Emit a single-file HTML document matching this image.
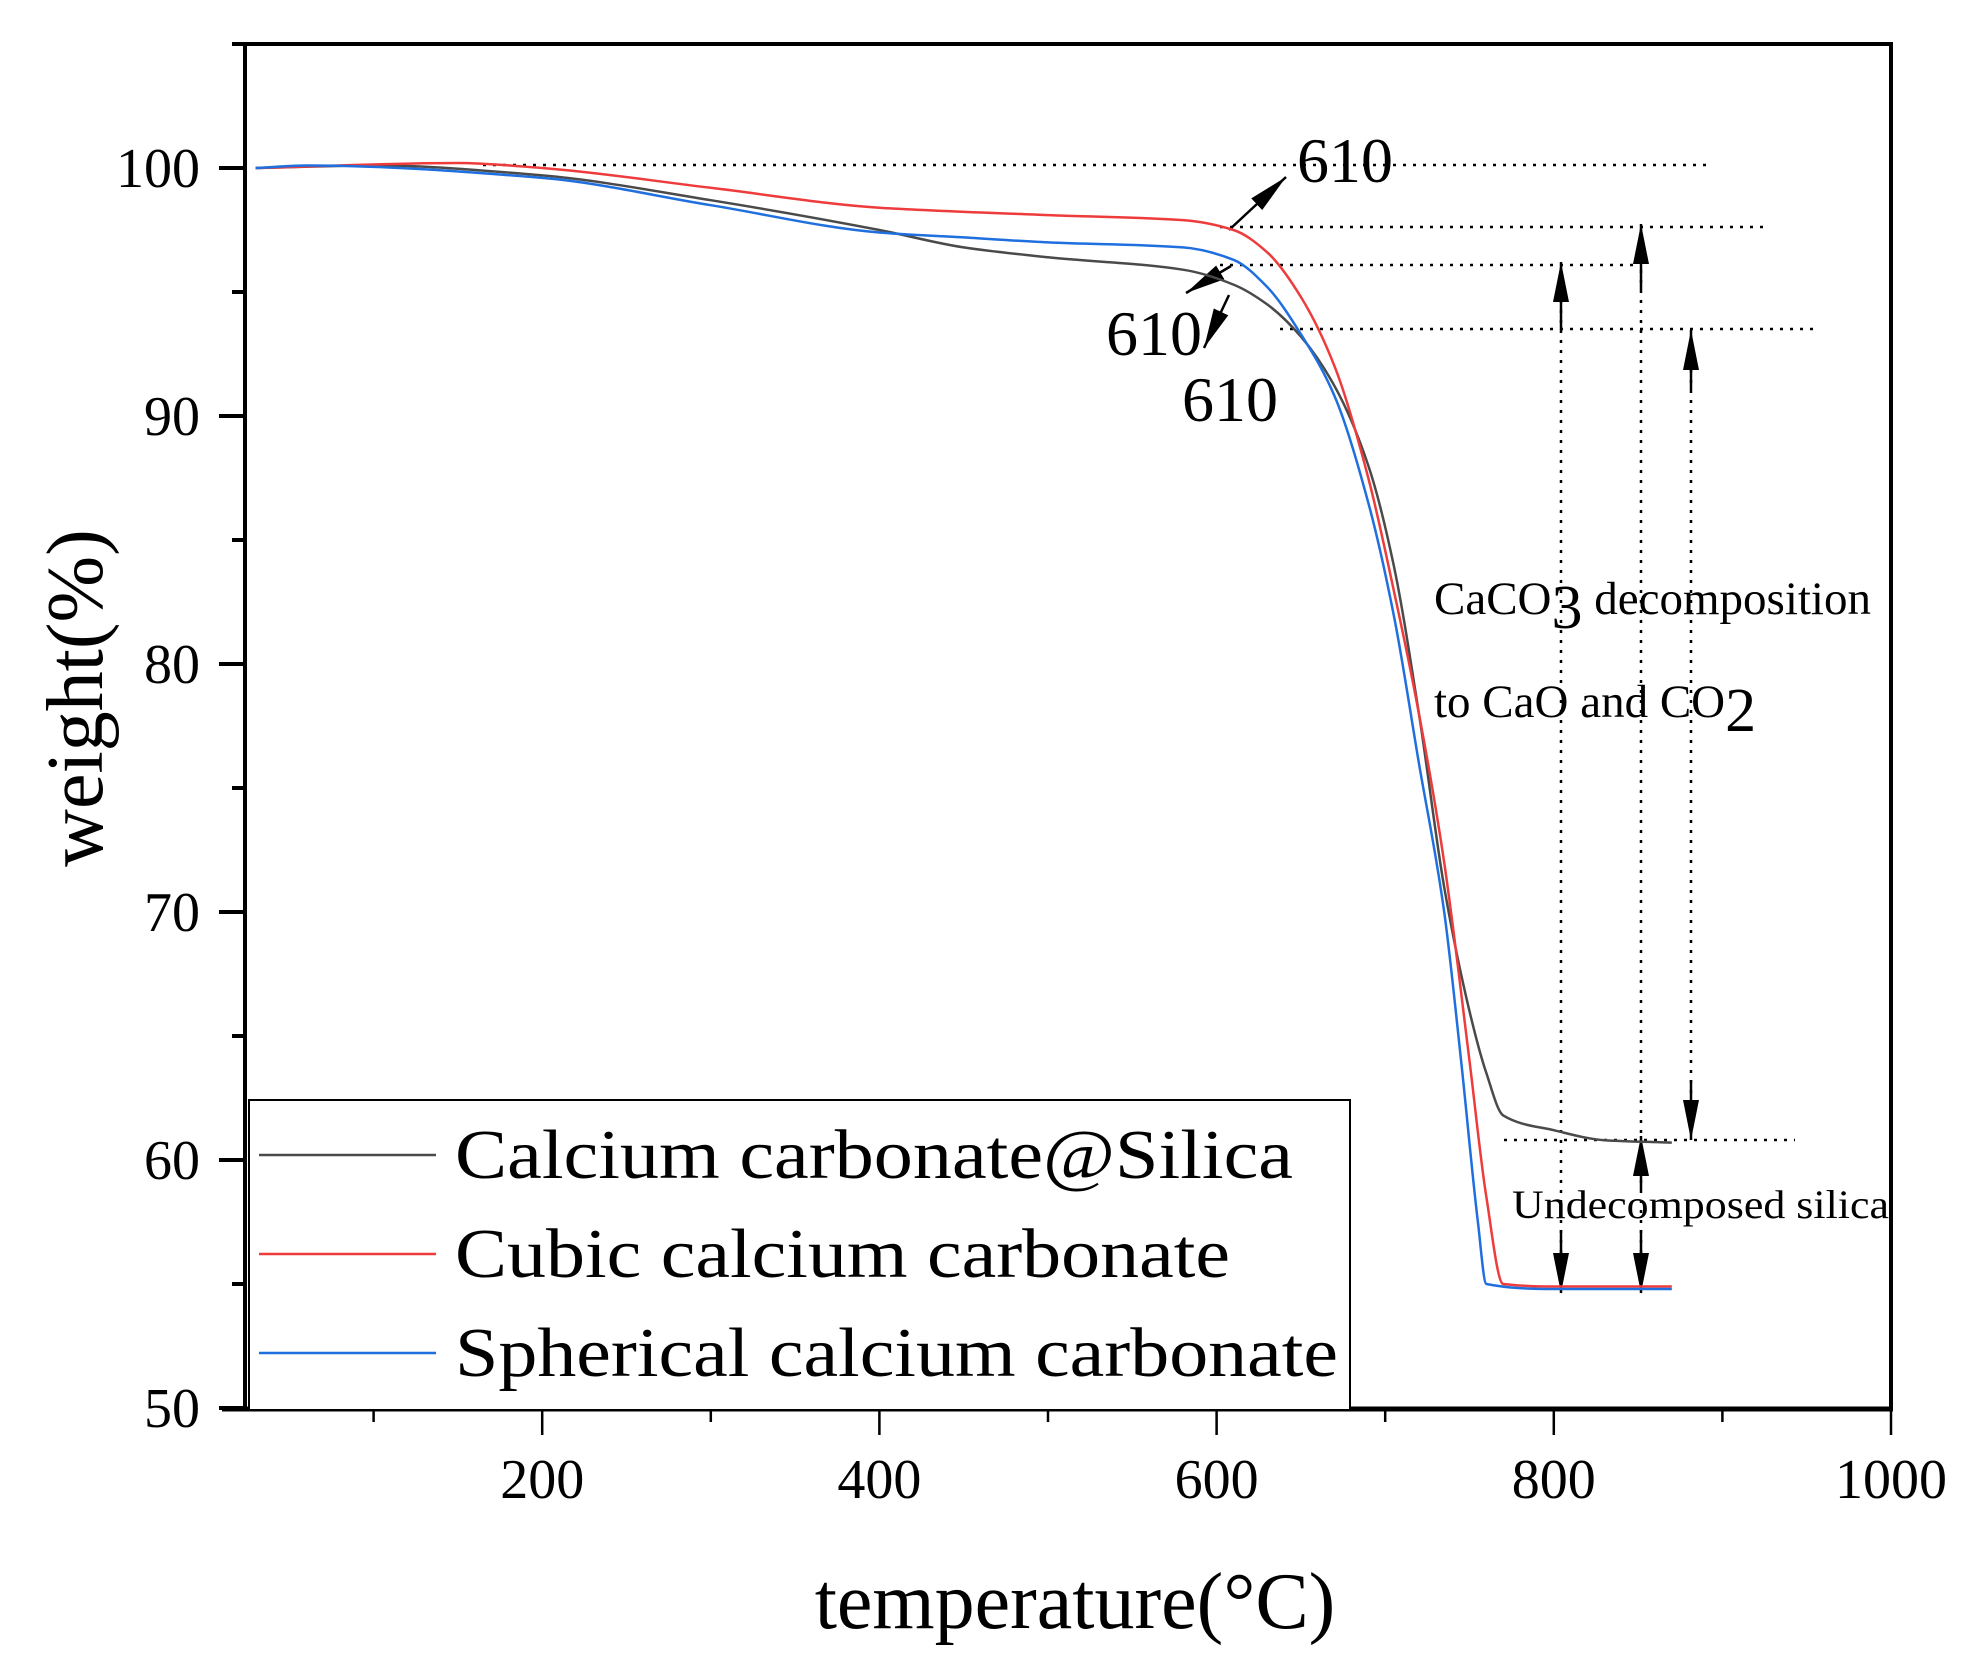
<!DOCTYPE html>
<html><head><meta charset="utf-8"><style>
html,body{margin:0;padding:0;background:#fff}
svg{display:block}
text{font-family:"Liberation Serif",serif;fill:#000}
</style></head><body>
<svg id="chart" width="1983" height="1667" viewBox="0 0 1983 1667" xmlns="http://www.w3.org/2000/svg">
<defs>
<marker id="ah2" viewBox="0 0 10 10" refX="10" refY="5" markerWidth="40" markerHeight="16" markerUnits="userSpaceOnUse" orient="auto-start-reverse" preserveAspectRatio="none"><path d="M0,0 L10,5 L0,10 z" fill="#000"/></marker>
</defs>
<g id="plot"></g>
</svg>
<script>
const xTicks=[200,400,600,800,1000];
const xMinor=[100,300,500,700,900];
const yTicks=[50,60,70,80,90,100];
const yMinor=[55,65,75,85,95];
const tBlack=[30,100,200,300,400,450,500,580,610,630,650,670,690,705,720,735,750,760,770,800,830,870];
const wBlack=[100,100.1,99.7,98.7,97.5,96.8,96.4,95.9,95.3,94.5,93.2,91.2,88,84,78,71,66,63.5,61.8,61.2,60.8,60.7];
const tRed=[30,150,200,300,400,500,580,610,630,650,670,690,705,720,735,750,760,770,800,870];
const wRed=[100,100.2,100,99.2,98.4,98.1,97.9,97.5,96.6,94.8,92,87.5,83,78,72,64,58.5,55,54.9,54.9];
const tBlue=[30,60,200,300,400,450,500,580,610,630,650,670,690,705,720,735,745,755,760,800,870];
const wBlue=[100,100.1,99.6,98.5,97.4,97.2,97,96.8,96.3,95.2,93.3,90.8,86.5,82,76,70,64,57.5,55,54.8,54.8];
const seriesNames=["Calcium carbonate@Silica","Cubic calcium carbonate","Spherical calcium carbonate"];

const NS="http://www.w3.org/2000/svg";
const g=document.getElementById('plot');
const X=t=>205+1.686*t;
const Y=w=>168+24.8*(100-w);
function mk(tag,attrs,parent){const e=document.createElementNS(NS,tag);for(const k in attrs)e.setAttribute(k,attrs[k]);(parent||g).appendChild(e);return e;}

let e;
e=mk('line',{x1:245,y1:44,x2:245,y2:1409,stroke:'#000','stroke-width':4});


e=mk('line',{x1:222,y1:1409,x2:1893,y2:1409,stroke:'#000','stroke-width':5});


e=mk('line',{x1:232,y1:44,x2:1893,y2:44,stroke:'#000','stroke-width':4});


e=mk('line',{x1:1891,y1:42,x2:1891,y2:1409,stroke:'#000','stroke-width':4});



xTicks.forEach(t=>{
  e=mk('line',{x1:X(t),y1:1409,x2:X(t),y2:1435,stroke:'#000','stroke-width':2.5});
  
  
  e=mk('text',{x:X(t),y:1498,'font-size':56,'text-anchor':'middle'});e.textContent=t;
  
  
});
xMinor.forEach(t=>{
  e=mk('line',{x1:X(t),y1:1409,x2:X(t),y2:1422,stroke:'#000','stroke-width':2.5});
  
  
});
yTicks.forEach(w=>{
  e=mk('line',{x1:219,y1:Y(w),x2:245,y2:Y(w),stroke:'#000','stroke-width':4});
  
  
  e=mk('text',{x:200,y:Y(w)+19,'font-size':56,'text-anchor':'end'});e.textContent=w;
  
  
});
yMinor.forEach(w=>{
  e=mk('line',{x1:232,y1:Y(w),x2:245,y2:Y(w),stroke:'#000','stroke-width':4});
  
  
});

e=mk('text',{x:1075,y:1628,'font-size':80,'text-anchor':'middle'});e.textContent='temperature(°C)';


e=mk('text',{x:0,y:0,'font-size':80,'text-anchor':'middle',transform:'translate(102,698) rotate(-90)'});e.textContent='weight(%)';



function dot(x1,y1,x2,y2,name){e=mk('line',{x1,y1,x2,y2,stroke:'#000','stroke-width':2.5,'stroke-dasharray':'3 7'});
  
  }
dot(483,165,1711,165,'guide-100');
dot(1220,227,1770,227,'guide-red-onset');
dot(1220,265,1636,265,'guide-blue-onset');
dot(1280,329,1820,329,'guide-black-onset');
dot(1504,1140,1795,1140,'guide-silica');
dot(1561,300,1561,1255,'vertical-guide-1');
dot(1641,260,1641,1255,'vertical-guide-2');
dot(1691,360,1691,1105,'vertical-guide-3');
function arr(x1,y1,x2,y2,name){e=mk('line',{x1,y1,x2,y2,stroke:'#000','stroke-width':2.5,'marker-end':'url(#ah2)'});
  
  }
arr(1561,330,1561,262,'arrow-up-1');arr(1561,1230,1561,1293,'arrow-down-1');
arr(1641,290,1641,224,'arrow-up-2');arr(1641,1230,1641,1293,'arrow-down-2');arr(1641,1190,1641,1136,'arrow-up-silica');
arr(1691,390,1691,330,'arrow-up-3');arr(1691,1080,1691,1140,'arrow-down-3');
arr(1229,230,1286,177,'arrow-610-red');arr(1231,266,1186,293,'arrow-610-blue');arr(1229,295,1204,348,'arrow-610-black');

// monotone cubic (Fritsch-Carlson) path
function monotone(pts){
  const n=pts.length,dx=[],s=[],m=[];
  for(let i=0;i<n-1;i++){dx[i]=pts[i+1][0]-pts[i][0];s[i]=(pts[i+1][1]-pts[i][1])/dx[i];}
  m[0]=s[0];m[n-1]=s[n-2];
  for(let i=1;i<n-1;i++){
    if(s[i-1]*s[i]<=0)m[i]=0;
    else{const w1=2*dx[i]+dx[i-1],w2=dx[i]+2*dx[i-1];m[i]=(w1+w2)/(w1/s[i-1]+w2/s[i]);}
  }
  let d='M'+pts[0][0].toFixed(1)+','+pts[0][1].toFixed(1);
  for(let i=0;i<n-1;i++){
    const h=dx[i]/3;
    d+=' C'+(pts[i][0]+h).toFixed(1)+','+(pts[i][1]+m[i]*h).toFixed(1)+' '+(pts[i+1][0]-h).toFixed(1)+','+(pts[i+1][1]-m[i+1]*h).toFixed(1)+' '+pts[i+1][0].toFixed(1)+','+pts[i+1][1].toFixed(1);
  }
  return d;
}
const series=[[tBlack,wBlack,'#4a4a4a','curve-calcium-carbonate-silica'],[tRed,wRed,'#ee3b3b','curve-cubic'],[tBlue,wBlue,'#1f6fde','curve-spherical']];
series.forEach(s=>{
  const pts=s[0].map((t,i)=>[X(t),Y(s[1][i])]);
  e=mk('path',{d:monotone(pts),fill:'none',stroke:s[2],'stroke-width':2.5,'stroke-linejoin':'round'});
  
  
});

function txt(x,y,size,s,name){e=mk('text',{x,y,'font-size':size});e.textContent=s;
  
  return e;}
txt(1297,182,64,'610','label-610-red');
txt(1106,355,64,'610','label-610-blue');
txt(1182,421,64,'610','label-610-black');
e=txt(1434,614,47,'','decomposition-label-line1');
e.innerHTML='CaCO<tspan dy="14" font-size="62">3</tspan><tspan dy="-14"> decomposition</tspan>';
e=txt(1434,717,47,'','decomposition-label-line2');
e.innerHTML='to CaO and CO<tspan dy="14" font-size="62">2</tspan>';
e=txt(1512,1218,40,'Undecomposed silica','silica-label');
e.setAttribute('textLength','377');e.setAttribute('lengthAdjust','spacingAndGlyphs');

e=mk('rect',{x:249,y:1100,width:1101,height:310,fill:'#fff',stroke:'#000','stroke-width':2});


const lc=['#4a4a4a','#ee3b3b','#1f6fde'];
const lw=[838,775,883];
seriesNames.forEach((n,i)=>{
  const y=1155+i*99;
  e=mk('line',{x1:259,y1:y,x2:436,y2:y,stroke:lc[i],'stroke-width':2.5});
  
  
  e=mk('text',{x:455,y:y+23,'font-size':70,textLength:lw[i],lengthAdjust:'spacingAndGlyphs'});e.textContent=n;
  
  
});
</script>
</body></html>
